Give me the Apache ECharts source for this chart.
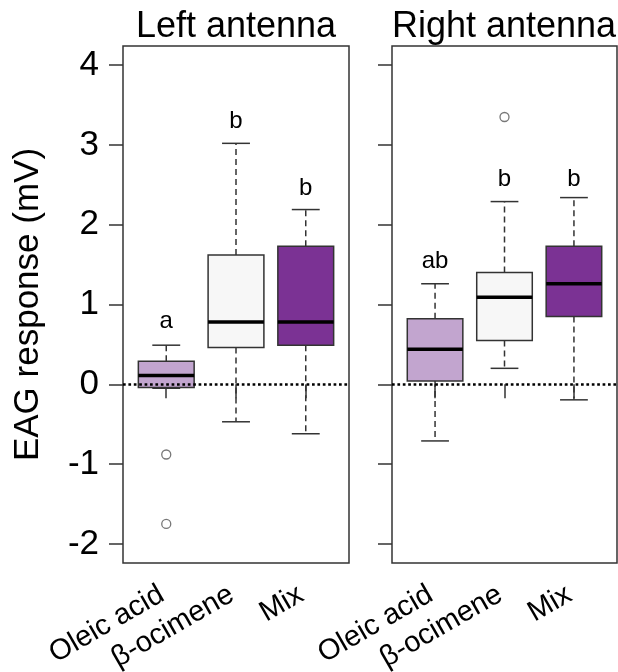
<!DOCTYPE html>
<html>
<head>
<meta charset="utf-8">
<script src="https://cdn.jsdelivr.net/npm/echarts@6/dist/echarts.min.js"></script>
<style>html,body{margin:0;padding:0;background:#fff}#c{width:618px;height:672px}</style>
</head>
<body>
<div id="c"></div>
<script>
// ---- data ----
const categories = ['Oleic acid', 'β-ocimene', 'Mix'];
const panelTitles = ['Left antenna', 'Right antenna'];
const yTicks = [-2, -1, 0, 1, 2, 3, 4];

const leftMin    = [-0.05, -0.47, -0.62];
const leftQ1     = [-0.04,  0.46,  0.49];
const leftMedian = [ 0.11,  0.78,  0.78];
const leftQ3     = [ 0.29,  1.62,  1.73];
const leftMax    = [ 0.49,  3.02,  2.19];
const leftOutlierCat = ['Oleic acid', 'Oleic acid'];
const leftOutlierVal = [-0.88, -1.75];
const leftLetters = ['a', 'b', 'b'];
const leftLetterY = [0.79, 3.30, 2.46];

const rightMin    = [-0.71, 0.20, -0.195];
const rightQ1     = [ 0.04, 0.55,  0.85];
const rightMedian = [ 0.44, 1.09,  1.26];
const rightQ3     = [ 0.82, 1.40,  1.73];
const rightMax    = [ 1.26, 2.29,  2.34];
const rightOutlierCat = ['β-ocimene'];
const rightOutlierVal = [3.35];
const rightLetters = ['ab', 'b', 'b'];
const rightLetterY = [1.54, 2.565, 2.565];

const boxColors = ['#C2A5CF', '#F7F7F7', '#7B3294'];

// ---- build ----
const FONT = '"Liberation Sans", Arial, sans-serif';
const INK = '#333';
const catPos = c => categories.indexOf(c) + 1;

function boxData(mn, q1, md, q3, mx) {
  return categories.map((c, i) => [i + 1, mn[i], q1[i], md[i], q3[i], mx[i]]);
}

function renderBox(params, api) {
  const x = api.value(0);
  const pMin = api.coord([x, api.value(1)]);
  const pQ1 = api.coord([x, api.value(2)]);
  const pMd = api.coord([x, api.value(3)]);
  const pQ3 = api.coord([x, api.value(4)]);
  const pMax = api.coord([x, api.value(5)]);
  const bw = api.size([0.8, 0])[0];
  const cw = api.size([0.4, 0])[0];
  const cx = pMd[0];
  const dash = {stroke: INK, lineWidth: 1.5, lineDash: [6, 4]};
  const solid = {stroke: INK, lineWidth: 1.5};
  return {
    type: 'group',
    children: [
      {type: 'line', shape: {x1: cx, y1: pQ3[1], x2: cx, y2: pMax[1]}, style: dash},
      {type: 'line', shape: {x1: cx, y1: pQ1[1], x2: cx, y2: pMin[1]}, style: dash},
      {type: 'line', shape: {x1: cx - cw / 2, y1: pMax[1], x2: cx + cw / 2, y2: pMax[1]}, style: solid},
      {type: 'line', shape: {x1: cx - cw / 2, y1: pMin[1], x2: cx + cw / 2, y2: pMin[1]}, style: solid},
      {type: 'rect', shape: {x: cx - bw / 2, y: pQ3[1], width: bw, height: pQ1[1] - pQ3[1]},
        style: {fill: boxColors[params.dataIndex], stroke: INK, lineWidth: 1.5}},
      {type: 'line', shape: {x1: cx - bw / 2, y1: pMd[1], x2: cx + bw / 2, y2: pMd[1]},
        style: {stroke: '#000', lineWidth: 3.5}}
    ]
  };
}

function makeLetterRenderer(letters) {
  return function (params, api) {
    const p = api.coord([api.value(0), api.value(1)]);
    return {
      type: 'text',
      style: {text: letters[params.dataIndex], x: p[0], y: p[1], align: 'center', verticalAlign: 'middle',
        fill: '#000', font: '24px ' + FONT}
    };
  };
}

const grids = [
  {left: 123, top: 46, width: 226, height: 517},
  {left: 392, top: 46, width: 225, height: 517}
].map(g => Object.assign(g, {show: true, borderColor: INK, borderWidth: 1.5, backgroundColor: 'transparent',
  containLabel: false, outerBoundsMode: 'none'}));

function xAxisFor(i) {
  return {
    gridIndex: i, type: 'value', min: 0.38, max: 3.62,
    splitLine: {show: false}, axisLine: {show: false},
    axisTick: {show: true, customValues: [1, 2, 3], length: 14, lineStyle: {color: INK, width: 1.5}},
    axisLabel: {customValues: [1, 2, 3], formatter: v => categories[Math.round(v) - 1],
      rotate: 30, margin: 27, fontSize: 29, color: '#000', fontFamily: FONT, padding: [0, 5, 0, 0]}
  };
}
function yAxisFor(i) {
  const a = {
    gridIndex: i, type: 'value', min: -2.24, max: 4.24,
    splitLine: {show: false}, axisLine: {show: false},
    axisTick: {show: true, customValues: yTicks, length: 14, lineStyle: {color: INK, width: 1.5}},
    axisLabel: {show: i === 0, customValues: yTicks, margin: 24, fontSize: 35, color: '#000', fontFamily: FONT}
  };
  if (i === 0) {
    a.name = 'EAG response (mV)';
    a.nameLocation = 'middle';
    a.nameGap = 77;
    a.nameTextStyle = {fontSize: 35, color: '#000', fontFamily: FONT};
  }
  return a;
}

const panels = [
  {box: boxData(leftMin, leftQ1, leftMedian, leftQ3, leftMax),
   out: leftOutlierCat.map((c, k) => [catPos(c), leftOutlierVal[k]]),
   letters: leftLetters, letterY: leftLetterY},
  {box: boxData(rightMin, rightQ1, rightMedian, rightQ3, rightMax),
   out: rightOutlierCat.map((c, k) => [catPos(c), rightOutlierVal[k]]),
   letters: rightLetters, letterY: rightLetterY}
];

const series = [];
panels.forEach((p, i) => {
  series.push({type: 'custom', xAxisIndex: i, yAxisIndex: i, renderItem: renderBox, data: p.box, z: 2, silent: true});
  series.push({
    type: 'scatter', xAxisIndex: i, yAxisIndex: i, data: p.out, z: 3, silent: true,
    symbol: 'circle', symbolSize: 9,
    itemStyle: {color: '#fff', borderColor: '#555', borderWidth: 1.3},
    markLine: {silent: true, symbol: ['none', 'none'], label: {show: false},
      lineStyle: {color: '#000', width: 2.7, type: [2.7, 2.7], cap: 'butt'},
      data: [{yAxis: 0}]}
  });
  series.push({
    type: 'custom', xAxisIndex: i, yAxisIndex: i, z: 4, silent: true,
    renderItem: makeLetterRenderer(p.letters),
    data: p.letters.map((t, k) => [k + 1, p.letterY[k]])
  });
});

const chart = echarts.init(document.getElementById('c'), null, {renderer: 'canvas'});
chart.setOption({
  animation: false,
  backgroundColor: '#fff',
  title: panelTitles.map((t, i) => ({
    text: t, left: i === 0 ? 236 : 504, top: 9, textAlign: 'center', padding: 0,
    textStyle: {fontSize: 36, fontWeight: 'normal', color: '#000', fontFamily: FONT}
  })),
  grid: grids,
  xAxis: [xAxisFor(0), xAxisFor(1)],
  yAxis: [yAxisFor(0), yAxisFor(1)],
  series: series
});
</script>
</body>
</html>
